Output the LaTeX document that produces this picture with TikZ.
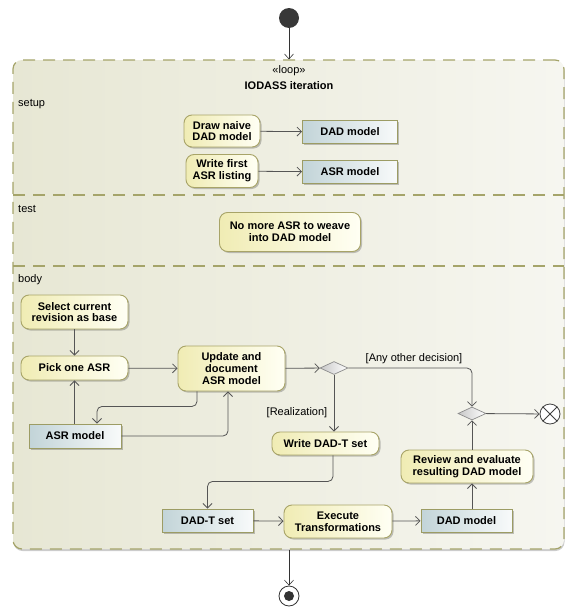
\documentclass[tikz,border=0pt]{standalone}
\usepackage{fontspec}
\setmainfont{Liberation Sans}
\usetikzlibrary{arrows.meta,shapes.geometric,shadows,calc}
\definecolor{actL}{HTML}{F0ECB4}
\definecolor{actR}{HTML}{FFFFF4}
\definecolor{actB}{HTML}{A8A468}
\definecolor{objL}{HTML}{C2D4D8}
\definecolor{objR}{HTML}{F8FAFA}
\definecolor{objB}{HTML}{9C9C64}
\definecolor{loopL}{HTML}{E7E7D4}
\definecolor{loopR}{HTML}{F6F6F0}
\definecolor{loopB}{HTML}{A5A46A}
\definecolor{flowC}{HTML}{555555}
\begin{document}
\begin{tikzpicture}[x=1pt,y=-1pt,
  txt/.style={font=\fontsize{11}{11.8}\selectfont},
  btxt/.style={font=\fontsize{11}{11.8}\selectfont\bfseries},
  shad/.style={drop shadow={shadow xshift=1.5pt,shadow yshift=-1.5pt,opacity=0.22,fill=black}},
  action/.style={btxt,draw=actB,line width=0.9pt,rounded corners=8pt,left color=actL,right color=actR,align=center,inner sep=1pt,shad},
  obj/.style={btxt,draw=objB,line width=0.9pt,left color=objL,right color=objR,align=center,inner sep=1pt,shad},
  decision/.style={diamond,draw=black!45,line width=0.7pt,left color=black!22,right color=white,minimum width=28pt,minimum height=13pt,inner sep=0pt},
  flow/.style={draw=flowC,line width=0.8pt,-{Straight Barb[length=4.5pt,width=9pt]}},
  thinflow/.style={draw=black!80,line width=0.6pt,-{Straight Barb[length=5pt,width=9pt]}},
  loopbox/.style={draw=loopB,line width=1.2pt,dash pattern=on 12pt off 8pt,rounded corners=9pt,left color=loopL,right color=loopR,drop shadow={shadow xshift=0.5pt,shadow yshift=-2pt,opacity=0.2,fill=black}},
  divider/.style={draw=loopB,line width=1.2pt,dash pattern=on 12pt off 8pt},
  lbl/.style={txt,inner sep=0pt}
]
\useasboundingbox (0,0) rectangle (566,608);

% loop region
\node[loopbox,minimum width=551pt,minimum height=489pt,inner sep=0] (loop) at (288.5,304.5) {};
\draw[divider] (13,195) -- (564,195);
\draw[divider] (13,266) -- (564,266);

\node[lbl] (st) at (289,71) {«loop»};
\node[lbl,font=\fontsize{11}{11.8}\selectfont\bfseries] (title) at (289,86) {IODASS iteration};
\node[lbl,anchor=west] (setupl) at (18,104) {setup};
\node[lbl,anchor=west] (testl) at (18,209) {test};
\node[lbl,anchor=west] (bodyl) at (18,280) {body};

% initial / final
\node[circle,fill=black!78,minimum size=20pt,inner sep=0] (init) at (289,18) {};
\node[circle,draw=black!80,fill=white,line width=0.8pt,minimum size=20pt,inner sep=0] (fin) at (289,596) {};
\node[circle,fill=black!80,minimum size=10pt,inner sep=0] (findot) at (fin) {};

% setup
\node[action,minimum width=76pt,minimum height=32pt] (draw) at (222,131) {Draw naive\\DAD model};
\node[obj,minimum width=95pt,minimum height=23pt] (dad1) at (350,132) {DAD model};
\node[action,minimum width=72pt,minimum height=33pt] (write) at (222,171) {Write first\\ASR listing};
\node[obj,minimum width=95pt,minimum height=23pt] (asr1) at (350,172) {ASR model};

% test
\node[action,minimum width=141pt,minimum height=39pt] (nomore) at (290,232) {No more ASR to weave\\into DAD model};

% body
\node[action,minimum width=107pt,minimum height=34pt] (select) at (74.5,312) {Select current\\revision as base};
\node[action,minimum width=107pt,minimum height=24pt] (pick) at (74.5,368) {Pick one ASR};
\node[action,minimum width=107pt,minimum height=45pt] (update) at (231.5,368.5) {Update and\\document\\ASR model};
\node[obj,minimum width=92pt,minimum height=24pt] (asr2) at (75,436) {ASR model};
\node[decision] (d1) at (334,368) {};
\node[decision] (d2) at (472,413.5) {};
\node[circle,draw=black!75,fill=white,line width=0.8pt,minimum size=20pt,inner sep=0] (ff) at (550,414) {};
\draw[black!75,line width=0.8pt] (ff.45) -- (ff.225) (ff.135) -- (ff.315);
\node[action,minimum width=107pt,minimum height=23pt] (writet) at (325.5,443.5) {Write DAD-T set};
\node[action,minimum width=132pt,minimum height=33pt] (review) at (467,466.5) {Review and evaluate\\resulting DAD model};
\node[obj,minimum width=91pt,minimum height=23pt] (dadt) at (207.5,520.5) {DAD-T set};
\node[action,minimum width=108pt,minimum height=33pt] (exec) at (338,521.5) {Execute\\Transformations};
\node[obj,minimum width=91pt,minimum height=23pt] (dad2) at (466.5,520.5) {DAD model};

\node[lbl] (g1) at (414,359) {[Any other decision]};
\node[lbl] (g2) at (297,413) {[Realization]};

% connectors
\draw[thinflow] (init) -- (init |- loop.north);
\draw[thinflow] (fin |- loop.south) -- (fin);
\draw[flow] (draw) -- (dad1);
\draw[flow] (write) -- (asr1);
\draw[flow] (select) -- (pick);
\draw[flow] (asr2.north -| pick.south) -- (pick.south);
\draw[flow] (pick) -- (update);
\draw[flow,rounded corners=5pt] ([xshift=-34.5pt]update.south) -- ++(0,15) -| ([xshift=22pt]asr2.north);
\draw[flow,rounded corners=5pt] (asr2.east) -| ([xshift=-3.5pt]update.south);
\draw[flow] (update) -- (d1);
\draw[flow,rounded corners=5pt] (d1.east) -| (d2.north);
\draw[flow] (d1.south) -- (d1.south |- writet.north);
\draw[flow,rounded corners=5pt] ([xshift=7.5pt]writet.south) -- ++(0,26) -| (dadt.north);
\draw[flow] (dadt) -- (exec);
\draw[flow] (exec) -- (dad2);
\draw[flow] (d2.south |- dad2.north) -- (d2.south |- review.south);
\draw[flow] (d2.south |- review.north) -- (d2.south);
\draw[flow] (d2) -- (ff);
\end{tikzpicture}
\end{document}
